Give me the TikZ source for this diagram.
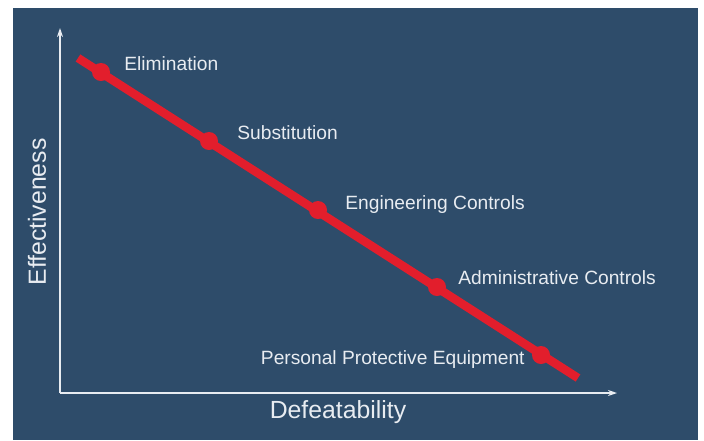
\documentclass[tikz,border=0pt]{standalone}
\usepackage{fontspec}
\setmainfont{Liberation Sans}
\usetikzlibrary{arrows.meta,positioning}
\definecolor{panelblue}{RGB}{46,76,106}
\definecolor{hierred}{RGB}{226,30,44}
\definecolor{paleink}{RGB}{232,236,241}

\begin{document}
\begin{tikzpicture}[
  x=1pt,y=-1pt,
  axis/.style={draw=paleink,line width=1.2pt,-{Stealth[length=9pt,width=6pt]}},
  trend/.style={draw=hierred,line width=8.5pt},
  stage/.style={circle,fill=hierred,minimum size=18pt,inner sep=0pt},
  lbl/.style={text=paleink,font=\fontsize{19.2}{22}\selectfont,inner sep=0pt},
  axlbl/.style={text=paleink,font=\fontsize{24.8}{28}\selectfont,inner sep=0pt}
]
  %% ---- page and panel ----
  \useasboundingbox (0,0) rectangle (704,440);
  \fill[white] (0,0) rectangle (704,440);
  \fill[panelblue] (13,8) rectangle (698,440);

  %% ---- axes ----
  \coordinate (origin) at (60,393);
  \coordinate (ytip) at (60,28);
  \coordinate (xtip) at (617,393);
  \draw[axis] (origin) -- (ytip);
  \draw[axis] (origin) -- (xtip);
  \node[axlbl,rotate=90] (effect) at (37,212) {Effectiveness};
  \node[axlbl] (defeat) at (338,412) {Defeatability};

  %% ---- control hierarchy line ----
  \coordinate (top) at (78,58);
  \coordinate (bottom) at (578,378);
  \draw[trend] (top) -- (bottom);

  \node[stage] (elim)  at (101,72)  {};
  \node[stage] (subst) at (209,141) {};
  \node[stage] (eng)   at (318,210) {};
  \node[stage] (admin) at (437,287) {};
  \node[stage] (ppe)   at (541,355) {};

  %% ---- stage labels ----
  \node[lbl,right=14pt of elim,yshift=8pt]   (elimlbl)  {Elimination};
  \node[lbl,right=19pt of subst,yshift=8pt]  (substlbl) {Substitution};
  \node[lbl,right=18pt of eng,yshift=5pt]    (englbl)   {Engineering Controls};
  \node[lbl,right=12pt of admin,yshift=9pt]  (adminlbl) {Administrative Controls};
  \node[lbl,left=7pt of ppe,yshift=-5pt]     (ppelbl)   {Personal Protective Equipment};
\end{tikzpicture}
\end{document}
